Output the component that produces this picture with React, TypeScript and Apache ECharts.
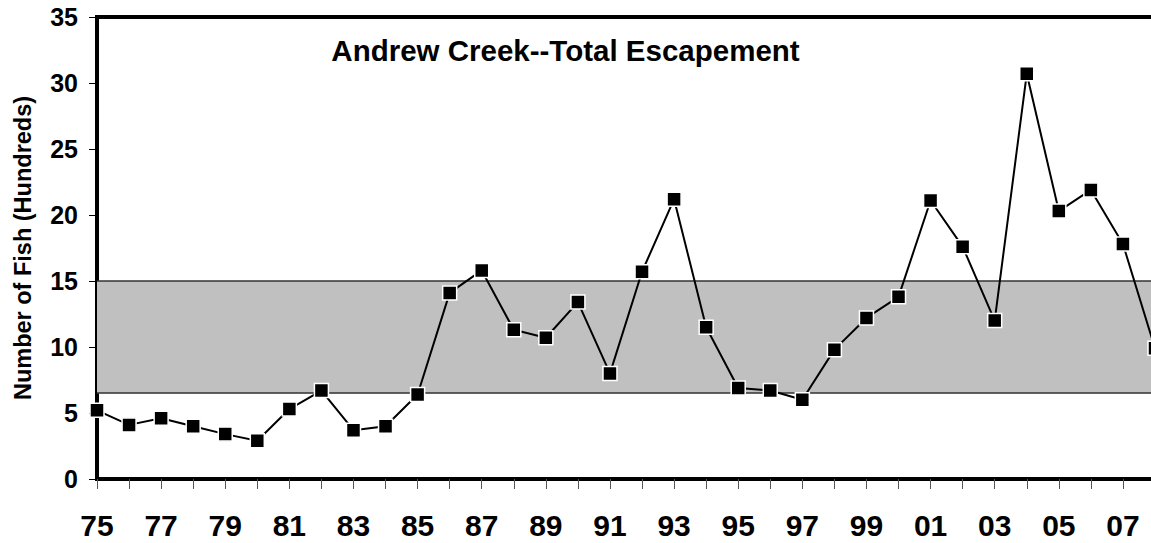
import React, { useEffect, useRef } from "react";
import * as echarts from "echarts";

const years = [
  "75", "76", "77", "78", "79", "80", "81", "82", "83", "84",
  "85", "86", "87", "88", "89", "90", "91", "92", "93", "94",
  "95", "96", "97", "98", "99", "00", "01", "02", "03", "04",
  "05", "06", "07", "08",
];
const escapement = [
  5.2, 4.1, 4.6, 4.0, 3.4, 2.9, 5.3, 6.7, 3.7, 4.0,
  6.4, 14.1, 15.8, 11.3, 10.7, 13.4, 8.0, 15.7, 21.2, 11.5,
  6.9, 6.7, 6.0, 9.8, 12.2, 13.8, 21.1, 17.6, 12.0, 30.7,
  20.3, 21.9, 17.8, 9.9,
];
const goalRange = [6.5, 15];
const yTicks = { min: 0, max: 35, interval: 5 };
const titleText = "Andrew Creek--Total Escapement";
const yName = "Number of Fish (Hundreds)";

const FONT = "'Liberation Sans', Arial, sans-serif";

export default function App() {
  const ref = useRef<HTMLDivElement>(null);
  useEffect(() => {
    if (!ref.current) return;
    const chart = echarts.init(ref.current, undefined, { renderer: "svg" });
    chart.setOption({
      animation: false,
      backgroundColor: "#ffffff",
      grid: {
        left: 97,
        top: 17,
        width: 1058,
        height: 462,
        containLabel: false,
        outerBoundsMode: "none",
        show: true,
        borderColor: "#000",
        borderWidth: 4,
      },
      graphic: [
        {
          type: "text",
          x: 565.5,
          y: 50,
          style: {
            text: titleText,
            font: `bold 29.5px ${FONT}`,
            fill: "#000",
            align: "center",
            verticalAlign: "middle",
          },
        },
      ],
      xAxis: {
        type: "category",
        data: years,
        boundaryGap: false,
        axisLine: { show: true, lineStyle: { color: "#000", width: 4 } },
        axisTick: { show: true, interval: 0, length: 10, lineStyle: { color: "#555", width: 1 } },
        axisLabel: {
          interval: 1,
          margin: 31,
          color: "#000",
          fontSize: 30,
          fontWeight: "bold",
          fontFamily: FONT,
        },
        splitLine: { show: false },
      },
      yAxis: {
        type: "value",
        min: yTicks.min,
        max: yTicks.max,
        interval: yTicks.interval,
        name: yName,
        nameLocation: "middle",
        nameGap: 62,
        nameTextStyle: { color: "#000", fontSize: 23.5, fontWeight: "bold", fontFamily: FONT },
        axisLine: { show: true, lineStyle: { color: "#000", width: 4 } },
        axisTick: { show: true, length: 8, lineStyle: { color: "#000", width: 1 } },
        axisLabel: {
          margin: 19,
          color: "#000",
          fontSize: 25,
          fontWeight: "bold",
          fontFamily: FONT,
        },
        splitLine: { show: false },
      },
      series: [
        {
          type: "line",
          data: escapement,
          symbol: "rect",
          symbolSize: 14,
          lineStyle: { color: "#000", width: 2 },
          itemStyle: { color: "#000", borderColor: "#fff", borderWidth: 1.5 },
          z: 5,
          markArea: {
            silent: true,
            itemStyle: { color: "#c0c0c0" },
            data: [[{ yAxis: goalRange[0] }, { yAxis: goalRange[1] }]],
          },
          markLine: {
            silent: true,
            symbol: "none",
            label: { show: false },
            lineStyle: { color: "#333", width: 1.5, type: "solid" },
            data: [{ yAxis: goalRange[0] }, { yAxis: goalRange[1] }],
          },
        },
      ],
    });
    return () => chart.dispose();
  }, []);
  return <div ref={ref} style={{ width: 1151, height: 543, position: "absolute", left: 0, top: 0 }} />;
}
